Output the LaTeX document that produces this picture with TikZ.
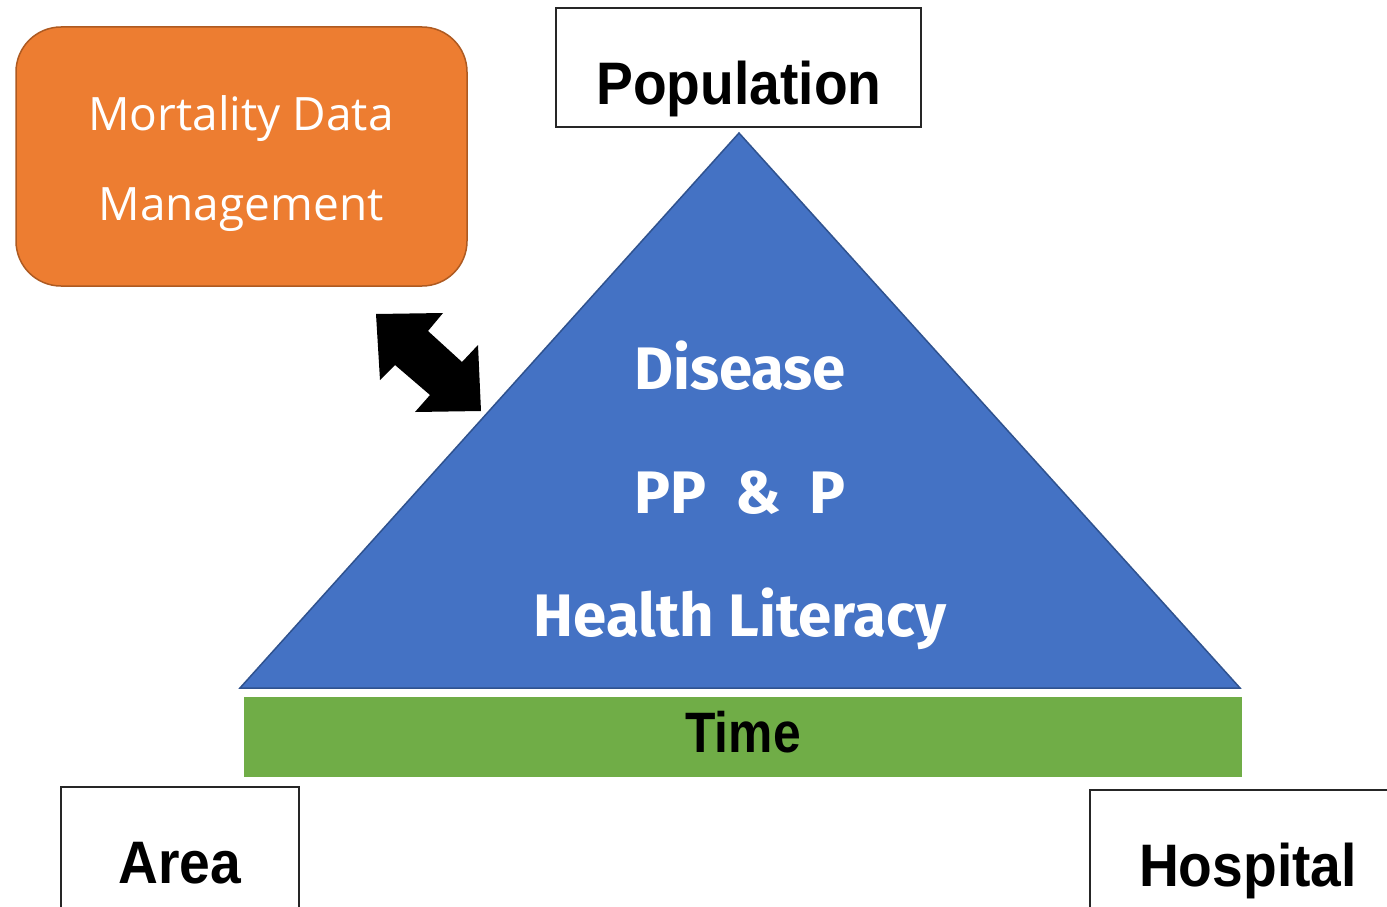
\documentclass[tikz,border=0pt]{standalone}
\usepackage{fontspec}
\setmainfont{Liberation Sans}
\newfontfamily\whitefont{Fira Sans}
\newfontfamily\lightfont{Open Sans}
\definecolor{triblue}{HTML}{4472C4}
\definecolor{triedge}{HTML}{2F528F}
\definecolor{orfill}{HTML}{ED7D31}
\definecolor{oredge}{HTML}{AE5A21}
\definecolor{timegreen}{HTML}{70AD47}
\tikzset{
  labelbox/.style={draw=black!85, line width=1.3pt, fill=white, inner sep=0pt},
  blacktext/.style={anchor=base, inner sep=0pt, font=\fontsize{60}{72}\selectfont\bfseries, xscale=0.92},
  whitetext/.style={anchor=base, inner sep=0pt, text=white, font=\fontsize{60}{72}\whitefont\bfseries},
  ortext/.style={anchor=base, inner sep=0pt, text=white, font=\fontsize{46}{56}\lightfont},
}
\begin{document}
\begin{tikzpicture}[x=1pt,y=-1pt]
\clip (0,0) rectangle (1387,907);
\fill[white] (0,0) rectangle (1387,907);
% orange box
\node[draw=oredge, line width=1.5pt, fill=orfill, rounded corners=45pt, minimum width=451pt, minimum height=259pt, inner sep=0pt] (mort) at (241.5,156.5) {};
\node[ortext] (mort1) at (241,130) {Mortality Data};
\node[ortext] (mort2) at (241,220) {Management};
% population box
\node[labelbox, minimum width=365pt, minimum height=119pt] (pop) at (738.5,67.5) {};
\node[blacktext] (popt) at (739,104) {Population};
% triangle
\coordinate (apex) at (739,133);
\coordinate (bl) at (240,688);
\coordinate (br) at (1240,688);
\draw[fill=triblue, draw=triedge, line width=1.5pt, line join=miter] (apex) -- (br) -- (bl) -- cycle;
\node[whitetext] (dis) at (740,389) {Disease};
\node[whitetext] (ppp) at (740,513) {PP\ \ \&\ \ P};
\node[whitetext] (hl) at (740,636) {Health\ Literacy};
% time bar
\node[fill=timegreen, minimum width=998pt, minimum height=80pt, inner sep=0pt] (time) at (743,737) {};
\node[blacktext, font=\fontsize{57}{66}\selectfont\bfseries, xscale=0.95] (timet) at (743,752) {Time};
% area and hospital
\node[labelbox, minimum width=238pt, minimum height=150pt] (area) at (180,862) {};
\node[blacktext] (areat) at (180,883) {Area};
\node[labelbox, minimum width=316pt, minimum height=150pt] (hosp) at (1248,865) {};
\node[blacktext] (hospt) at (1248,886) {Hospital};
% double arrow
\fill[black] (376,314) -- (443,313) -- (428,331) -- (462,362) -- (478,345) -- (481,411) -- (415,412) -- (430,395) -- (395,365) -- (380,380) -- cycle;
\end{tikzpicture}
\end{document}
